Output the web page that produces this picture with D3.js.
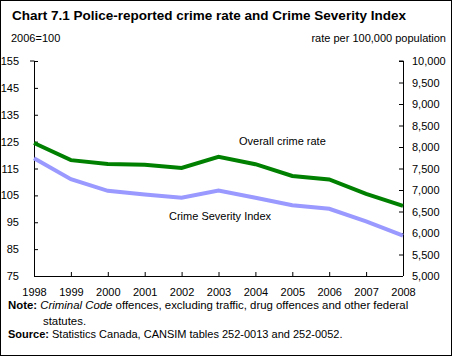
<!DOCTYPE html>
<html><head><meta charset="utf-8">
<script src="https://cdn.jsdelivr.net/npm/d3@7"></script>
<style>body{margin:0;background:#fff}svg text{font-family:Arial,"Liberation Sans",sans-serif}</style>
</head><body><svg id="c" width="452" height="356"></svg>
<script>
const years = [1998,1999,2000,2001,2002,2003,2004,2005,2006,2007,2008];
const crimeRate = [8092,7695,7607,7587,7514,7770,7600,7325,7245,6908,6631];
const csi = [118.8,111.0,106.7,105.3,104.1,106.8,104.1,101.3,100.0,95.3,90.0];
const leftTicks = [75,85,95,105,115,125,135,145,155];
const rightTicks = [5000,5500,6000,6500,7000,7500,8000,8500,9000,9500,10000];

const svg = d3.select("#c");
svg.append("rect").attr("x",0.5).attr("y",0.5).attr("width",451).attr("height",355).attr("fill","#fff").attr("stroke","#000");

const L=34, R=403, T=61, B=276;
const x = d3.scaleLinear().domain([1998,2008]).range([L,R]);
const yL = d3.scaleLinear().domain([75,155]).range([B,T]);
const yR = d3.scaleLinear().domain([5000,10000]).range([B,T]);
const fmt = d3.format(",");

svg.append("text").attr("x",12).attr("y",20).attr("font-size",13.5).attr("font-weight","bold").text("Chart 7.1 Police-reported crime rate and Crime Severity Index");
svg.append("text").attr("x",11).attr("y",42).attr("font-size",11).text("2006=100");
svg.append("text").attr("x",446).attr("y",42).attr("font-size",11).attr("text-anchor","end").text("rate per 100,000 population");

const gl = svg.append("g").attr("transform",`translate(${L},0)`)
  .call(d3.axisLeft(yL).tickValues(leftTicks).tickSize(-4).tickPadding(15));
const gr = svg.append("g").attr("transform",`translate(${R},0)`)
  .call(d3.axisRight(yR).tickValues(rightTicks).tickFormat(fmt).tickSize(-4).tickPadding(9));
const gb = svg.append("g").attr("transform",`translate(0,${B})`)
  .call(d3.axisBottom(x).tickValues(years).tickFormat(d3.format("d")).tickSize(-4).tickPadding(12));
[gl,gr,gb].forEach(g=>{
  g.select(".domain").attr("stroke","#000").attr("stroke-width",1);
  g.selectAll(".tick line").attr("stroke","#000");
  g.selectAll("text").attr("font-size",11).attr("fill","#000").attr("font-family","Arial, 'Liberation Sans', sans-serif");
});
gl.select(".domain").attr("d",`M-4,${T}H0.5V${B}`);
gr.select(".domain").attr("d",`M-4,${T}H0.5V${B}`);
gb.select(".domain").attr("d",`M${L},0.5H${R}`);

svg.append("path").datum(years.map((d,i)=>[d,crimeRate[i]]))
  .attr("fill","none").attr("stroke","#008000").attr("stroke-width",4)
  .attr("d",d3.line().x(d=>x(d[0])).y(d=>yR(d[1])));
svg.append("path").datum(years.map((d,i)=>[d,csi[i]]))
  .attr("fill","none").attr("stroke","#9999ff").attr("stroke-width",4)
  .attr("d",d3.line().x(d=>x(d[0])).y(d=>yL(d[1])));

svg.append("text").attr("x",239).attr("y",145).attr("font-size",11).text("Overall crime rate");
svg.append("text").attr("x",169).attr("y",220).attr("font-size",11).text("Crime Severity Index");

const n = svg.append("text").attr("x",8).attr("y",309).attr("font-size",11.4);
n.append("tspan").attr("font-weight","bold").text("Note: ");
n.append("tspan").attr("font-style","italic").text("Criminal Code");
n.append("tspan").text(" offences, excluding traffic, drug offences and other federal");
svg.append("text").attr("x",43).attr("y",325).attr("font-size",11.4).text("statutes.");
const s = svg.append("text").attr("x",8).attr("y",338).attr("font-size",11);
s.append("tspan").attr("font-weight","bold").text("Source: ");
s.append("tspan").text("Statistics Canada, CANSIM tables 252-0013 and 252-0052.");
</script></body></html>
